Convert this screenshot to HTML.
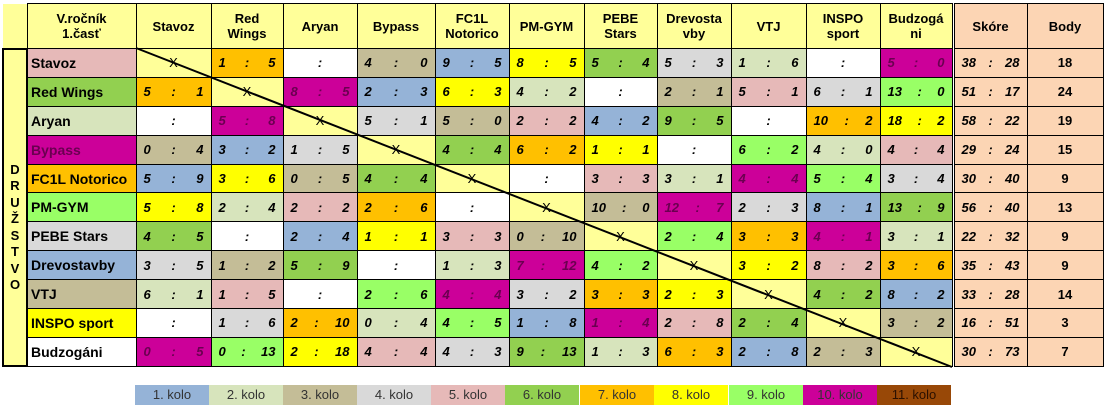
<!DOCTYPE html>
<html><head><meta charset="utf-8"><style>
body{margin:0;width:1105px;height:407px;background:#fff;position:relative;overflow:hidden;font-family:"Liberation Sans",Arial,sans-serif}
table{position:absolute;left:2px;top:3px;border-collapse:collapse;table-layout:fixed;font-size:13px;font-weight:bold}
td{border:1px solid #000;padding:0 7px;overflow:hidden;white-space:nowrap;text-align:center;font-style:italic}
tr.h td{background:#ffff99;font-style:normal;height:44px;white-space:normal;line-height:15px;padding:0 2px;font-size:13px}
tr.d td{height:27.9px}
td.n{text-align:left;font-style:normal;font-size:14px;padding:0 3px}
td.dr{background:#ffff99;font-style:normal;font-size:13px;line-height:16.5px;border:2px solid #000;padding:112px 0 0 0;vertical-align:top}
td.corner{border:none;background:#fff}
.a{float:left}.b{float:right}
.c1{background:#95b3d7}.c2{background:#d7e4bc}.c3{background:#c4bd97}.c4{background:#d9d9d9}.c5{background:#e6b9b8}.c6{background:#92d050}.c7{background:#ffc000}.c8{background:#ffff00}.c9{background:#99ff66}.c10{background:#cc0099;color:#6a0050}.c11{background:#984807}
.w{background:#fff}.x{background:#ffff99;font-style:normal;font-weight:normal}
td.s{background:#fcd5b4}
td.p{background:#fcd5b4;font-style:normal}
td.sk{border-left:3px double #000}
.lg{position:absolute;top:385px;height:20px;line-height:20px;font-size:13px;color:#333;text-align:center;width:74px}
</style></head><body>
<table>
<colgroup><col style="width:24px"><col style="width:109px"><col style="width:75px"><col style="width:72px"><col style="width:74px"><col style="width:78px"><col style="width:74px"><col style="width:75px"><col style="width:73px"><col style="width:74px"><col style="width:75px"><col style="width:74px"><col style="width:73px"><col style="width:74px"><col style="width:76px"></colgroup>
<tr class="h"><td class="corner"></td><td>V.ročník<br>1.časť</td><td>Stavoz</td><td>Red<br>Wings</td><td>Aryan</td><td>Bypass</td><td>FC1L<br>Notorico</td><td>PM-GYM</td><td>PEBE<br>Stars</td><td>Drevosta<br>vby</td><td>VTJ</td><td>INSPO<br>sport</td><td>Budzogá<br>ni</td><td class="sk" style="background:#fcd5b4">Skóre</td><td style="background:#fcd5b4">Body</td></tr>
<tr class="d"><td class="dr" rowspan="11">D<br>R<br>U<br>Ž<br>S<br>T<br>V<br>O</td><td class="n c5">Stavoz</td><td class="x">X</td><td class="c7"><span class=a>1</span>:<span class=b>5</span></td><td class="w">:</td><td class="c3"><span class=a>4</span>:<span class=b>0</span></td><td class="c1"><span class=a>9</span>:<span class=b>5</span></td><td class="c8"><span class=a>8</span>:<span class=b>5</span></td><td class="c6"><span class=a>5</span>:<span class=b>4</span></td><td class="c4"><span class=a>5</span>:<span class=b>3</span></td><td class="c2"><span class=a>1</span>:<span class=b>6</span></td><td class="w">:</td><td class="c10"><span class=a>5</span>:<span class=b>0</span></td><td class="s sk"><span class=a>38</span>:<span class=b>28</span></td><td class="p">18</td></tr>
<tr class="d"><td class="n c6">Red Wings</td><td class="c7"><span class=a>5</span>:<span class=b>1</span></td><td class="x">X</td><td class="c10"><span class=a>8</span>:<span class=b>5</span></td><td class="c1"><span class=a>2</span>:<span class=b>3</span></td><td class="c8"><span class=a>6</span>:<span class=b>3</span></td><td class="c2"><span class=a>4</span>:<span class=b>2</span></td><td class="w">:</td><td class="c3"><span class=a>2</span>:<span class=b>1</span></td><td class="c5"><span class=a>5</span>:<span class=b>1</span></td><td class="c4"><span class=a>6</span>:<span class=b>1</span></td><td class="c9"><span class=a>13</span>:<span class=b>0</span></td><td class="s sk"><span class=a>51</span>:<span class=b>17</span></td><td class="p">24</td></tr>
<tr class="d"><td class="n c2">Aryan</td><td class="w">:</td><td class="c10"><span class=a>5</span>:<span class=b>8</span></td><td class="x">X</td><td class="c4"><span class=a>5</span>:<span class=b>1</span></td><td class="c3"><span class=a>5</span>:<span class=b>0</span></td><td class="c5"><span class=a>2</span>:<span class=b>2</span></td><td class="c1"><span class=a>4</span>:<span class=b>2</span></td><td class="c6"><span class=a>9</span>:<span class=b>5</span></td><td class="w">:</td><td class="c7"><span class=a>10</span>:<span class=b>2</span></td><td class="c8"><span class=a>18</span>:<span class=b>2</span></td><td class="s sk"><span class=a>58</span>:<span class=b>22</span></td><td class="p">19</td></tr>
<tr class="d"><td class="n c10">Bypass</td><td class="c3"><span class=a>0</span>:<span class=b>4</span></td><td class="c1"><span class=a>3</span>:<span class=b>2</span></td><td class="c4"><span class=a>1</span>:<span class=b>5</span></td><td class="x">X</td><td class="c6"><span class=a>4</span>:<span class=b>4</span></td><td class="c7"><span class=a>6</span>:<span class=b>2</span></td><td class="c8"><span class=a>1</span>:<span class=b>1</span></td><td class="w">:</td><td class="c9"><span class=a>6</span>:<span class=b>2</span></td><td class="c2"><span class=a>4</span>:<span class=b>0</span></td><td class="c5"><span class=a>4</span>:<span class=b>4</span></td><td class="s sk"><span class=a>29</span>:<span class=b>24</span></td><td class="p">15</td></tr>
<tr class="d"><td class="n c7">FC1L Notorico</td><td class="c1"><span class=a>5</span>:<span class=b>9</span></td><td class="c8"><span class=a>3</span>:<span class=b>6</span></td><td class="c3"><span class=a>0</span>:<span class=b>5</span></td><td class="c6"><span class=a>4</span>:<span class=b>4</span></td><td class="x">X</td><td class="w">:</td><td class="c5"><span class=a>3</span>:<span class=b>3</span></td><td class="c2"><span class=a>3</span>:<span class=b>1</span></td><td class="c10"><span class=a>4</span>:<span class=b>4</span></td><td class="c9"><span class=a>5</span>:<span class=b>4</span></td><td class="c4"><span class=a>3</span>:<span class=b>4</span></td><td class="s sk"><span class=a>30</span>:<span class=b>40</span></td><td class="p">9</td></tr>
<tr class="d"><td class="n c9">PM-GYM</td><td class="c8"><span class=a>5</span>:<span class=b>8</span></td><td class="c2"><span class=a>2</span>:<span class=b>4</span></td><td class="c5"><span class=a>2</span>:<span class=b>2</span></td><td class="c7"><span class=a>2</span>:<span class=b>6</span></td><td class="w">:</td><td class="x">X</td><td class="c3"><span class=a>10</span>:<span class=b>0</span></td><td class="c10"><span class=a>12</span>:<span class=b>7</span></td><td class="c4"><span class=a>2</span>:<span class=b>3</span></td><td class="c1"><span class=a>8</span>:<span class=b>1</span></td><td class="c6"><span class=a>13</span>:<span class=b>9</span></td><td class="s sk"><span class=a>56</span>:<span class=b>40</span></td><td class="p">13</td></tr>
<tr class="d"><td class="n c4">PEBE Stars</td><td class="c6"><span class=a>4</span>:<span class=b>5</span></td><td class="w">:</td><td class="c1"><span class=a>2</span>:<span class=b>4</span></td><td class="c8"><span class=a>1</span>:<span class=b>1</span></td><td class="c5"><span class=a>3</span>:<span class=b>3</span></td><td class="c3"><span class=a>0</span>:<span class=b>10</span></td><td class="x">X</td><td class="c9"><span class=a>2</span>:<span class=b>4</span></td><td class="c7"><span class=a>3</span>:<span class=b>3</span></td><td class="c10"><span class=a>4</span>:<span class=b>1</span></td><td class="c2"><span class=a>3</span>:<span class=b>1</span></td><td class="s sk"><span class=a>22</span>:<span class=b>32</span></td><td class="p">9</td></tr>
<tr class="d"><td class="n c1">Drevostavby</td><td class="c4"><span class=a>3</span>:<span class=b>5</span></td><td class="c3"><span class=a>1</span>:<span class=b>2</span></td><td class="c6"><span class=a>5</span>:<span class=b>9</span></td><td class="w">:</td><td class="c2"><span class=a>1</span>:<span class=b>3</span></td><td class="c10"><span class=a>7</span>:<span class=b>12</span></td><td class="c9"><span class=a>4</span>:<span class=b>2</span></td><td class="x">X</td><td class="c8"><span class=a>3</span>:<span class=b>2</span></td><td class="c5"><span class=a>8</span>:<span class=b>2</span></td><td class="c7"><span class=a>3</span>:<span class=b>6</span></td><td class="s sk"><span class=a>35</span>:<span class=b>43</span></td><td class="p">9</td></tr>
<tr class="d"><td class="n c3">VTJ</td><td class="c2"><span class=a>6</span>:<span class=b>1</span></td><td class="c5"><span class=a>1</span>:<span class=b>5</span></td><td class="w">:</td><td class="c9"><span class=a>2</span>:<span class=b>6</span></td><td class="c10"><span class=a>4</span>:<span class=b>4</span></td><td class="c4"><span class=a>3</span>:<span class=b>2</span></td><td class="c7"><span class=a>3</span>:<span class=b>3</span></td><td class="c8"><span class=a>2</span>:<span class=b>3</span></td><td class="x">X</td><td class="c6"><span class=a>4</span>:<span class=b>2</span></td><td class="c1"><span class=a>8</span>:<span class=b>2</span></td><td class="s sk"><span class=a>33</span>:<span class=b>28</span></td><td class="p">14</td></tr>
<tr class="d"><td class="n c8">INSPO sport</td><td class="w">:</td><td class="c4"><span class=a>1</span>:<span class=b>6</span></td><td class="c7"><span class=a>2</span>:<span class=b>10</span></td><td class="c2"><span class=a>0</span>:<span class=b>4</span></td><td class="c9"><span class=a>4</span>:<span class=b>5</span></td><td class="c1"><span class=a>1</span>:<span class=b>8</span></td><td class="c10"><span class=a>1</span>:<span class=b>4</span></td><td class="c5"><span class=a>2</span>:<span class=b>8</span></td><td class="c6"><span class=a>2</span>:<span class=b>4</span></td><td class="x">X</td><td class="c3"><span class=a>3</span>:<span class=b>2</span></td><td class="s sk"><span class=a>16</span>:<span class=b>51</span></td><td class="p">3</td></tr>
<tr class="d"><td class="n w">Budzogáni</td><td class="c10"><span class=a>0</span>:<span class=b>5</span></td><td class="c9"><span class=a>0</span>:<span class=b>13</span></td><td class="c8"><span class=a>2</span>:<span class=b>18</span></td><td class="c5"><span class=a>4</span>:<span class=b>4</span></td><td class="c4"><span class=a>4</span>:<span class=b>3</span></td><td class="c6"><span class=a>9</span>:<span class=b>13</span></td><td class="c2"><span class=a>1</span>:<span class=b>3</span></td><td class="c7"><span class=a>6</span>:<span class=b>3</span></td><td class="c1"><span class=a>2</span>:<span class=b>8</span></td><td class="c3"><span class=a>2</span>:<span class=b>3</span></td><td class="x">X</td><td class="s sk"><span class=a>30</span>:<span class=b>73</span></td><td class="p">7</td></tr>
</table>
<svg style="position:absolute;left:0;top:0" width="1105" height="407"><line x1="136" y1="48" x2="952" y2="367" stroke="#000" stroke-width="2"/></svg>
<div class="lg c1" style="left:135px">1. kolo</div>
<div class="lg c2" style="left:209px">2. kolo</div>
<div class="lg c3" style="left:283px">3. kolo</div>
<div class="lg c4" style="left:357px">4. kolo</div>
<div class="lg c5" style="left:431px">5. kolo</div>
<div class="lg c6" style="left:505px">6. kolo</div>
<div class="lg c7" style="left:580px">7. kolo</div>
<div class="lg c8" style="left:654px">8. kolo</div>
<div class="lg c9" style="left:729px">9. kolo</div>
<div class="lg c10" style="left:803px">10. kolo</div>
<div class="lg c11" style="left:877px;color:#2a1000">11. kolo</div>
</body></html>
